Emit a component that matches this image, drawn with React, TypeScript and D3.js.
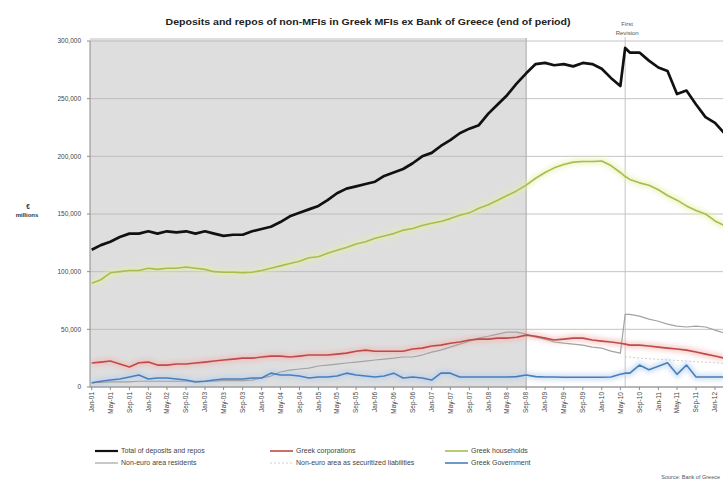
import React from "react";
import * as d3 from "d3";

// ---- DATA (€ millions), end of period ----
const months = [
  "2001-01","2001-03","2001-05","2001-07","2001-09","2001-11",
  "2002-01","2002-03","2002-05","2002-07","2002-09","2002-11",
  "2003-01","2003-03","2003-05","2003-07","2003-09","2003-11",
  "2004-01","2004-03","2004-05","2004-07","2004-09","2004-11",
  "2005-01","2005-03","2005-05","2005-07","2005-09","2005-11",
  "2006-01","2006-03","2006-05","2006-07","2006-09","2006-11",
  "2007-01","2007-03","2007-05","2007-07","2007-09","2007-11",
  "2008-01","2008-03","2008-05","2008-07","2008-09","2008-11",
  "2009-01","2009-03","2009-05","2009-07","2009-09","2009-11",
  "2010-01","2010-03","2010-05","2010-06","2010-07","2010-09","2010-11",
  "2011-01","2011-03","2011-05","2011-07","2011-09","2011-11",
  "2012-01","2012-03",
];

const totalDeposits = [
  119000,123000,126000,130000,133000,133000,
  135000,133000,135000,134000,135000,133000,
  135000,133000,131000,132000,132000,135000,
  137000,139000,143000,148000,151000,154000,
  157000,162000,168000,172000,174000,176000,
  178000,183000,186000,189000,194000,200000,
  203000,209000,214000,220000,224000,227000,
  237000,245000,253000,263000,272000,280000,
  281000,279000,280000,278000,281000,280000,
  276000,268000,261000,294000,290000,290000,283000,
  277000,274000,254000,257000,245000,234000,
  229000,220000,
];

const greekCorporations = [
  20800,21600,22500,19900,17300,21000,
  21600,19000,19000,19900,19900,20800,
  21600,22500,23400,24200,25000,25000,
  26000,26800,26800,26000,26800,27700,
  27700,27700,28500,29400,31000,32000,
  31000,31000,31000,31000,32900,33700,
  35500,36300,38000,39000,40700,41500,
  41500,42400,42400,43200,45000,44000,
  42400,40700,41500,42400,42400,40700,
  39800,39000,38000,37200,36300,36300,35500,
  34600,33700,32900,32000,30300,28500,
  26800,25000,
];

const greekHouseholds = [
  90000,93000,99000,100000,101000,101000,
  103000,102000,103000,103000,104000,103000,
  102000,100000,99500,99500,99000,99500,
  101000,103000,105000,107000,109000,112000,
  113000,116000,118500,121000,124000,126000,
  129000,131000,133000,136000,137500,140000,
  142000,143500,146000,149000,151000,155000,
  158000,162000,166000,170000,175000,181000,
  186000,190000,193000,195000,195500,195500,
  196000,192000,186000,182500,180000,177000,175000,
  171000,166000,162000,157000,153000,150000,
  144000,140000,
];

const nonEuroResidents = [
  4000,4000,4500,4500,4500,5000,
  5000,5000,5000,5000,5000,5000,
  5000,5000,5500,5500,5500,6000,
  7800,9500,13000,14700,15600,16400,
  18200,19000,19900,20800,21600,22500,
  23400,24200,25000,26000,26000,27700,
  30300,32000,34600,37200,39800,42400,
  44000,45800,47600,47600,45800,43200,
  41500,39000,38000,37200,36300,34600,
  33700,31100,29400,63000,63000,61400,58800,
  57000,54500,52800,52000,52800,52000,
  49300,46700,
];

const nonEuroSecuritized = [
  null,null,null,null,null,null,
  null,null,null,null,null,null,
  null,null,null,null,null,null,
  null,null,null,null,null,null,
  null,null,null,null,null,null,
  null,null,null,null,null,null,
  null,null,null,null,null,null,
  null,null,null,null,null,null,
  null,null,null,null,null,null,
  null,null,null,26000,26000,25000,24500,
  24000,23500,23000,22500,22000,21500,
  21000,20500,
];

const greekGovernment = [
  3500,5000,6000,7000,8700,10400,
  7000,7800,7800,7000,6000,4300,
  5000,6000,7000,7000,7000,7800,
  7800,12000,10400,10400,9500,7800,
  8700,8700,9500,12000,10400,9500,
  8700,9500,12000,7800,8700,7800,
  6000,12000,12000,8700,8700,8700,
  8700,8700,8700,9000,10400,9000,
  8700,8700,8500,8500,8500,8500,
  8500,8700,11000,12000,12000,19000,15000,
  18000,21000,11000,19000,8700,8700,
  8700,8700,
];

const yTicks = [0, 50000, 100000, 150000, 200000, 250000, 300000];

const xTickLabels = [
  "Jan-01","May-01","Sep-01","Jan-02","May-02","Sep-02","Jan-03","May-03","Sep-03",
  "Jan-04","May-04","Sep-04","Jan-05","May-05","Sep-05","Jan-06","May-06","Sep-06",
  "Jan-07","May-07","Sep-07","Jan-08","May-08","Sep-08","Jan-09","May-09","Sep-09",
  "Jan-10","May-10","Sep-10","Jan-11","May-11","Sep-11","Jan-12",
];

const shadedEnd = "2008-09";
const revisionDate = "2010-06";

const seriesDefs = [
  { name: "Non-euro area as securitized liabilities", values: nonEuroSecuritized, color: "#cfcfcf", width: 1, dash: "2,2", glow: null },
  { name: "Non-euro area residents", values: nonEuroResidents, color: "#a3a3a3", width: 1.2, dash: null, glow: null },
  { name: "Greek Government", values: greekGovernment, color: "#4a7ebb", width: 1.6, dash: null, glow: "#b4cdee" },
  { name: "Greek corporations", values: greekCorporations, color: "#be4b48", width: 1.6, dash: null, glow: "#f3b3b0" },
  { name: "Greek households", values: greekHouseholds, color: "#a6bd52", width: 1.6, dash: null, glow: "#e8eea4" },
  { name: "Total of deposits and repos", values: totalDeposits, color: "#111111", width: 2.7, dash: null, glow: null },
];

const legendOrder = [
  ["Total of deposits and repos", "Greek corporations", "Greek households"],
  ["Non-euro area residents", "Non-euro area as securitized liabilities", "Greek Government"],
];

const W = 723;
const H = 483;
const FONT = "'Liberation Sans', Arial, sans-serif";

export default function App() {
  const parseM = d3.utcParse("%Y-%m");
  const parseT = d3.utcParse("%b-%y");
  const dates = months.map((m) => parseM(m) as Date);

  const x = d3
    .scaleUtc()
    .domain([parseM("2001-01") as Date, parseM("2012-01") as Date])
    .range([91.7, 715]);
  const y = d3.scaleLinear().domain([0, 300000]).range([387, 41]);

  const plotLeft = 90;
  const plotRight = 760;
  const plotTop = y(300000);
  const plotBottom = y(0);

  const line = (vals: (number | null)[]) =>
    d3
      .line<number | null>()
      .defined((d) => d !== null)
      .x((_, i) => x(dates[i]))
      .y((d) => y(d as number))(vals) || "";

  const xShade = x(parseM(shadedEnd) as Date);
  const xRev = x(parseM(revisionDate) as Date);

  const legendX = [95, 270, 445];
  const legendY = [451, 463];
  const byName: Record<string, any> = {};
  seriesDefs.forEach((s) => (byName[s.name] = s));

  return (
    <svg
      width={W}
      height={H}
      style={{ position: "absolute", left: 0, top: 0, background: "#fff" }}
      fontFamily={FONT}
    >
      <defs>
        <filter id="glow" x="-10%" y="-30%" width="120%" height="160%">
          <feGaussianBlur stdDeviation="2" />
        </filter>
        <clipPath id="plotClip">
          <rect x={plotLeft} y={plotTop - 5} width={plotRight - plotLeft} height={plotBottom - plotTop + 5} />
        </clipPath>
      </defs>
      <rect width={W} height={H} fill="#fff" />

      {/* title */}
      <text
        x={368}
        y={24.5}
        textAnchor="middle"
        fontSize={8.5}
        fontWeight="bold"
        fill="#222"
        textLength={405}
        lengthAdjust="spacingAndGlyphs"
      >
        Deposits and repos of non-MFIs in Greek MFIs ex Bank of Greece (end of period)
      </text>

      {/* shaded period */}
      <rect x={plotLeft} y={plotTop - 3} width={xShade - plotLeft} height={plotBottom - plotTop + 3} fill="#dedede" />

      {/* gridlines */}
      {yTicks.map((t) => (
        <line key={"g" + t} x1={plotLeft} x2={plotRight} y1={y(t)} y2={y(t)} stroke="#b5b5b5" strokeWidth={0.8} />
      ))}

      {/* separators */}
      <line x1={xShade} x2={xShade} y1={plotTop - 3} y2={plotBottom} stroke="#a8a8a8" strokeWidth={1} />
      <line x1={xRev} x2={xRev} y1={plotTop - 4} y2={plotBottom} stroke="#c4c4c4" strokeWidth={1} />
      <text x={xRev + 2} y={26} textAnchor="middle" fontSize={6} fill="#555">First</text>
      <text x={xRev + 2} y={35} textAnchor="middle" fontSize={6} fill="#555">Revision</text>

      {/* series */}
      <g clipPath="url(#plotClip)">
        {seriesDefs.filter((s) => s.glow).map((s) => (
          <path key={"glow" + s.name} d={line(s.values)} fill="none" stroke={s.glow as string} strokeWidth={7} opacity={0.55} filter="url(#glow)" />
        ))}
        {seriesDefs.map((s) => (
          <path
            key={s.name}
            d={line(s.values)}
            fill="none"
            stroke={s.color}
            strokeWidth={s.width}
            strokeDasharray={s.dash || undefined}
            strokeLinejoin="round"
          />
        ))}
      </g>

      {/* axes */}
      <line x1={plotLeft} x2={plotLeft} y1={plotTop} y2={plotBottom} stroke="#8c8c8c" strokeWidth={1} />
      <line x1={plotLeft} x2={plotRight} y1={plotBottom} y2={plotBottom} stroke="#8c8c8c" strokeWidth={1} />
      {yTicks.map((t) => (
        <g key={"yt" + t}>
          <line x1={plotLeft - 3} x2={plotLeft} y1={y(t)} y2={y(t)} stroke="#8c8c8c" />
          <text x={81} y={y(t)} dy="0.35em" textAnchor="end" fontSize={6.5} fill="#444">
            {d3.format(",")(t)}
          </text>
        </g>
      ))}
      {xTickLabels.map((lab) => {
        const xx = x(parseT(lab) as Date);
        return (
          <g key={lab}>
            <line x1={xx} x2={xx} y1={plotBottom} y2={plotBottom + 3} stroke="#8c8c8c" />
            <text
              transform={`translate(${xx},${plotBottom + 5}) rotate(-90)`}
              textAnchor="end"
              dy="0.35em"
              fontSize={6.5}
              fill="#444"
            >
              {lab}
            </text>
          </g>
        );
      })}

      {/* y axis title */}
      <text x={28} y={209} textAnchor="middle" fontSize={6.5} fontWeight="bold" fill="#333">€</text>
      <text x={27} y={216.5} textAnchor="middle" fontSize={6} fontWeight="bold" fill="#333">millions</text>

      {/* legend */}
      {legendOrder.map((row, ri) =>
        row.map((name, ci) => {
          const s = byName[name];
          const lx = legendX[ci];
          const ly = legendY[ri];
          return (
            <g key={name}>
              <line
                x1={lx}
                x2={lx + 23}
                y1={ly}
                y2={ly}
                stroke={s.color}
                strokeWidth={Math.min(s.width, 2.2)}
                strokeDasharray={s.dash || undefined}
              />
              <text x={lx + 26} y={ly} dy="0.35em" fontSize={7} fill="#444">
                {name}
              </text>
            </g>
          );
        })
      )}

      {/* source */}
      <text x={720} y={479} textAnchor="end" fontSize={5.5} fill="#555">Source: Bank of Greece</text>
    </svg>
  );
}
